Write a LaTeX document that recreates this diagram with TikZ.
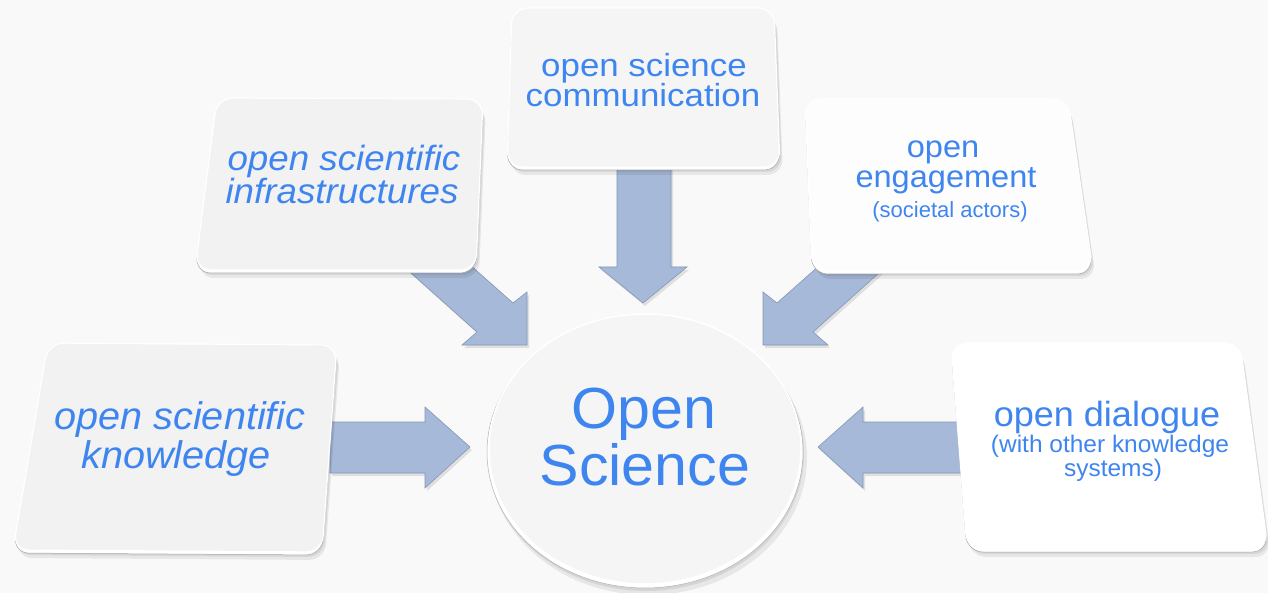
\documentclass[tikz,border=0pt]{standalone}
\usepackage{fontspec}
\setmainfont{Liberation Sans}
\usetikzlibrary{calc}
\definecolor{txt}{RGB}{62,133,240}
\definecolor{arr}{RGB}{166,185,216}
\definecolor{arredge}{RGB}{132,150,182}
\definecolor{bg}{RGB}{249,249,249}
\definecolor{boxa}{RGB}{242,242,242}
\definecolor{boxb}{RGB}{245,245,245}
\definecolor{boxc}{RGB}{253,253,253}
\begin{document}
\begin{tikzpicture}[x=1pt,y=-1pt,
  lbl/.style={text=txt, inner sep=0pt, anchor=base},
  arrowfill/.style={fill=arr, draw=arredge, line width=0.6pt, line join=miter},
  arrowshadow/.style={fill=black, opacity=0.10},
  shadowa/.style={fill=black, opacity=0.07, rounded corners=16pt},
  bevel/.style={fill=white, draw=black!35, line width=0.5pt, rounded corners=16pt},
  boxface/.style={draw=white, line width=1.2pt, rounded corners=16pt}]
\fill[bg] (0,0) rectangle (1268,593);
\useasboundingbox (0,0) rectangle (1268,593);

% ---------- arrow tip coordinates ----------
\coordinate (T1) at (470,447);
\coordinate (T2) at (527,345);
\coordinate (T3) at (643,303);
\coordinate (T4) at (763,345);
\coordinate (T5) at (818,447);

% ---------- arrows ----------
\begin{scope}[shift={(T1)}]
  \fill[arrowshadow,shift={(2,3)}] (-140,-25) -- (-45,-25) -- (-45,-40) -- (0,0) -- (-45,41) -- (-45,26) -- (-140,26) -- cycle;
  \path[arrowfill] (-140,-25) -- (-45,-25) -- (-45,-40) -- (0,0) -- (-45,41) -- (-45,26) -- (-140,26) -- cycle;
\end{scope}
\begin{scope}[shift={(T5)}, xscale=-1]
  \fill[arrowshadow,shift={(-2,3)}] (-150,-25) -- (-45,-25) -- (-45,-40) -- (0,0) -- (-45,41) -- (-45,26) -- (-150,26) -- cycle;
  \path[arrowfill] (-150,-25) -- (-45,-25) -- (-45,-40) -- (0,0) -- (-45,41) -- (-45,26) -- (-150,26) -- cycle;
\end{scope}
\begin{scope}[shift={(T3)}]
  \fill[arrowshadow,shift={(2,3)}] (-26,-140) -- (-26,-36) -- (-44,-36) -- (0,0) -- (44,-36) -- (28,-36) -- (28,-140) -- cycle;
  \path[arrowfill] (-26,-140) -- (-26,-36) -- (-44,-36) -- (0,0) -- (44,-36) -- (28,-36) -- (28,-140) -- cycle;
\end{scope}
\begin{scope}[shift={(T2)}]
  \fill[arrowshadow,shift={(2,3)}] (-126,-81) -- (-50,-13) -- (-65,0) -- (0,0) -- (0,-53) -- (-14,-42) -- (-58,-81) -- cycle;
  \path[arrowfill] (-126,-81) -- (-50,-13) -- (-65,0) -- (0,0) -- (0,-53) -- (-14,-42) -- (-58,-81) -- cycle;
\end{scope}
\begin{scope}[shift={(T4)}, xscale=-1]
  \fill[arrowshadow,shift={(-2,3)}] (-126,-81) -- (-50,-13) -- (-65,0) -- (0,0) -- (0,-53) -- (-14,-42) -- (-58,-81) -- cycle;
  \path[arrowfill] (-126,-81) -- (-50,-13) -- (-65,0) -- (0,0) -- (0,-53) -- (-14,-42) -- (-58,-81) -- cycle;
\end{scope}

% ---------- boxes ----------
% box 1: open scientific knowledge
\fill[shadowa,shift={(3,8)}] (48,343) -- (337,345) -- (322,552) -- (13,550) -- cycle;
\fill[shadowa,shift={(2,5)}] (48,343) -- (337,345) -- (322,552) -- (13,550) -- cycle;
\path[bevel,shift={(0,3)}] (48,343) -- (337,345) -- (322,552) -- (13,550) -- cycle;
\path[boxface,fill=boxa] (48,343) -- (337,345) -- (322,552) -- (13,550) -- cycle;
% box 2: open scientific infrastructures
\fill[shadowa,shift={(3,8)}] (217,98) -- (483,99) -- (476,270) -- (195,270) -- cycle;
\fill[shadowa,shift={(2,5)}] (217,98) -- (483,99) -- (476,270) -- (195,270) -- cycle;
\path[bevel,shift={(0,3)}] (217,98) -- (483,99) -- (476,270) -- (195,270) -- cycle;
\path[boxface,fill=boxa] (217,98) -- (483,99) -- (476,270) -- (195,270) -- cycle;
% box 3: open science communication
\fill[shadowa,shift={(3,8)}] (512,8) -- (774,8) -- (780,167) -- (507,167) -- cycle;
\fill[shadowa,shift={(2,5)}] (512,8) -- (774,8) -- (780,167) -- (507,167) -- cycle;
\path[bevel,shift={(0,3)}] (512,8) -- (774,8) -- (780,167) -- (507,167) -- cycle;
\path[boxface,fill=boxb] (512,8) -- (774,8) -- (780,167) -- (507,167) -- cycle;
% box 4: open engagement
\fill[shadowa,shift={(3,8)}] (805,99) -- (1068,99) -- (1093,271) -- (812,271) -- cycle;
\fill[shadowa,shift={(2,5)}] (805,99) -- (1068,99) -- (1093,271) -- (812,271) -- cycle;
\path[bevel,shift={(0,3)}] (805,99) -- (1068,99) -- (1093,271) -- (812,271) -- cycle;
\path[boxface,fill=boxc] (805,99) -- (1068,99) -- (1093,271) -- (812,271) -- cycle;
% box 5: open dialogue
\fill[shadowa,shift={(3,8)}] (951,343) -- (1240,343) -- (1268,549) -- (967,549) -- cycle;
\fill[shadowa,shift={(2,5)}] (951,343) -- (1240,343) -- (1268,549) -- (967,549) -- cycle;
\path[bevel,shift={(0,3)}] (951,343) -- (1240,343) -- (1268,549) -- (967,549) -- cycle;
\path[boxface,fill=white] (951,343) -- (1240,343) -- (1268,549) -- (967,549) -- cycle;

% ---------- central circle ----------
\fill[black,opacity=0.07] (648,458) ellipse [x radius=159pt, y radius=137pt];
\fill[black,opacity=0.08] (646,454) ellipse [x radius=158pt, y radius=137pt];
\filldraw[fill=white, draw=black!30, line width=0.5pt] (645,452) ellipse [x radius=158pt, y radius=136pt];
\filldraw[fill=boxb, draw=white, line width=1.5pt] (645,449) ellipse [x radius=156pt, y radius=135pt];

% ---------- texts ----------
\node[lbl, font=\fontsize{38.5}{39}\selectfont\itshape, xscale=1.03] (k1) at (180,429) {open scientific};
\node[lbl, font=\fontsize{38.5}{39}\selectfont\itshape, xscale=1.03] (k2) at (176,468) {knowledge};

\node[lbl, font=\fontsize{35}{35}\selectfont\itshape, xscale=1.05] (i1) at (344,171) {open scientific};
\node[lbl, font=\fontsize{35}{35}\selectfont\itshape, xscale=1.05] (i2) at (342,204) {infrastructures};

\node[lbl, font=\fontsize{32}{32}\selectfont, xscale=1.09] (c1) at (644,77) {open science};
\node[lbl, font=\fontsize{32}{32}\selectfont, xscale=1.09] (c2) at (643,107) {communication};

\node[lbl, font=\fontsize{31}{31}\selectfont, xscale=1.05] (e1) at (943,158) {open};
\node[lbl, font=\fontsize{31}{31}\selectfont, xscale=1.05] (e2) at (946,188) {engagement};
\node[lbl, font=\fontsize{22}{22}\selectfont] (e3) at (950,218) {(societal actors)};

\node[lbl, font=\fontsize{35}{35}\selectfont, xscale=1.03] (d1) at (1107,426) {open dialogue};
\node[lbl, font=\fontsize{24}{24}\selectfont, xscale=1.02] (d2) at (1110,452) {(with other knowledge};
\node[lbl, font=\fontsize{24}{24}\selectfont, xscale=1.02] (d3) at (1113,476) {systems)};

\node[lbl, font=\fontsize{58}{58}\selectfont, xscale=1.02] (o1) at (644,428) {Open};
\node[lbl, font=\fontsize{58}{58}\selectfont, xscale=1.02] (o2) at (645,485) {Science};
\end{tikzpicture}
\end{document}
